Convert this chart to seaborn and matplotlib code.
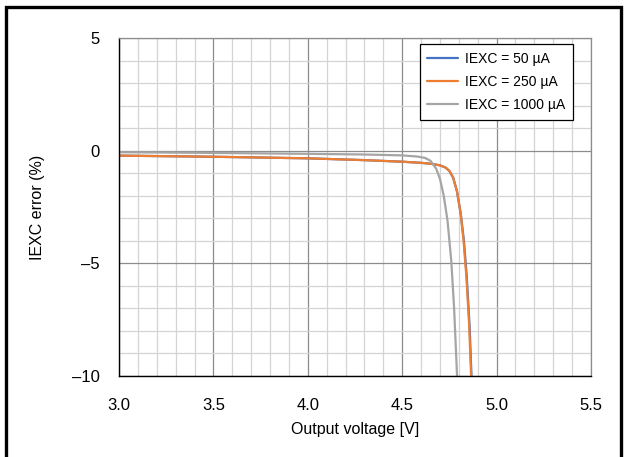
import numpy as np
import pandas as pd
import matplotlib
matplotlib.use("Agg")
import matplotlib.pyplot as plt
import seaborn as sns
from matplotlib.patches import Rectangle
from matplotlib.ticker import MultipleLocator

# IEXC = 50 uA
v_50 = [3.0, 3.5, 4.0, 4.3, 4.5, 4.6, 4.65, 4.7, 4.73, 4.75, 4.77, 4.79, 4.81, 4.827, 4.842, 4.857, 4.867, 4.875]
e_50 = [-0.22, -0.27, -0.34, -0.42, -0.49, -0.54, -0.58, -0.65, -0.75, -0.9, -1.2, -1.8, -2.8, -4.0, -5.6, -7.8, -10.0, -11.0]
# IEXC = 250 uA
v_250 = [3.0, 3.5, 4.0, 4.3, 4.5, 4.6, 4.65, 4.7, 4.73, 4.75, 4.77, 4.79, 4.81, 4.825, 4.84, 4.855, 4.865, 4.873]
e_250 = [-0.22, -0.27, -0.34, -0.42, -0.49, -0.54, -0.58, -0.65, -0.75, -0.9, -1.2, -1.8, -2.8, -4.0, -5.6, -7.8, -10.0, -11.0]
# IEXC = 1000 uA
v_1000 = [3.0, 3.5, 4.0, 4.3, 4.5, 4.58, 4.62, 4.65, 4.68, 4.70, 4.72, 4.74, 4.76, 4.775, 4.79, 4.80]
e_1000 = [-0.07, -0.10, -0.14, -0.17, -0.21, -0.26, -0.32, -0.45, -0.8, -1.25, -2.0, -3.1, -4.9, -7.0, -9.9, -11.0]

labels = ["IEXC = 50 µA", "IEXC = 250 µA", "IEXC = 1000 µA"]
colors = ["#4472C4", "#ED7D31", "#A5A5A5"]

df = pd.concat([
    pd.DataFrame({"v": v_50, "err": e_50, "series": labels[0]}),
    pd.DataFrame({"v": v_250, "err": e_250, "series": labels[1]}),
    pd.DataFrame({"v": v_1000, "err": e_1000, "series": labels[2]}),
])

sns.set_style("white")
plt.rcParams["font.family"] = ["Liberation Sans", "DejaVu Sans"]
plt.rcParams["text.color"] = "black"
plt.rcParams["axes.labelcolor"] = "black"
plt.rcParams["xtick.color"] = "black"
plt.rcParams["ytick.color"] = "black"

fig = plt.figure(figsize=(6.25, 4.57), dpi=100)
ax = fig.add_axes([119 / 625, 1 - 376 / 457, (591 - 119) / 625, (376 - 38) / 457])

sns.lineplot(data=df, x="v", y="err", hue="series", hue_order=labels,
             palette=colors, estimator=None, sort=False, linewidth=1.6, ax=ax)

ax.set_xlim(3.0, 5.5)
ax.set_ylim(-10, 5)
ax.xaxis.set_major_locator(MultipleLocator(0.5))
ax.xaxis.set_minor_locator(MultipleLocator(0.1))
ax.yaxis.set_major_locator(MultipleLocator(5))
ax.yaxis.set_minor_locator(MultipleLocator(1))
ax.grid(which="major", color="#8c8c8c", linewidth=0.9)
ax.grid(which="minor", color="#d4d4d4", linewidth=0.9)
ax.set_axisbelow(True)
ax.tick_params(which="both", length=0)
ax.tick_params(axis="x", pad=16, labelsize=12)
ax.tick_params(axis="y", pad=14, labelsize=12)
ax.set_yticks([5, 0, -5, -10])
ax.set_yticklabels(["5", "0", "\u20135", "\u201310"])

for s in ["top", "right"]:
    ax.spines[s].set_color("#8c8c8c")
    ax.spines[s].set_linewidth(0.9)
for s in ["left", "bottom"]:
    ax.spines[s].set_color("black")
    ax.spines[s].set_linewidth(1.0)

ax.set_xlabel("Output voltage [V]", fontsize=11.5, labelpad=6)
ax.set_ylabel("IEXC error (%)", fontsize=11.5, labelpad=19)

leg = ax.legend(loc="upper right", bbox_to_anchor=(0.961, 0.981), fontsize=10,
                frameon=True, fancybox=False, edgecolor="black", framealpha=1,
                handlelength=2.2, borderpad=0.55, labelspacing=0.65, handletextpad=0.5,
                borderaxespad=0)
leg.get_frame().set_linewidth(0.9)

fig.patches.append(Rectangle((5.5 / 625, -0.01), 615 / 625, 1 - 6.5 / 457 + 0.01,
                             transform=fig.transFigure, fill=False,
                             edgecolor="black", linewidth=2.4, clip_on=False))

fig.savefig("out.png", dpi=100)
